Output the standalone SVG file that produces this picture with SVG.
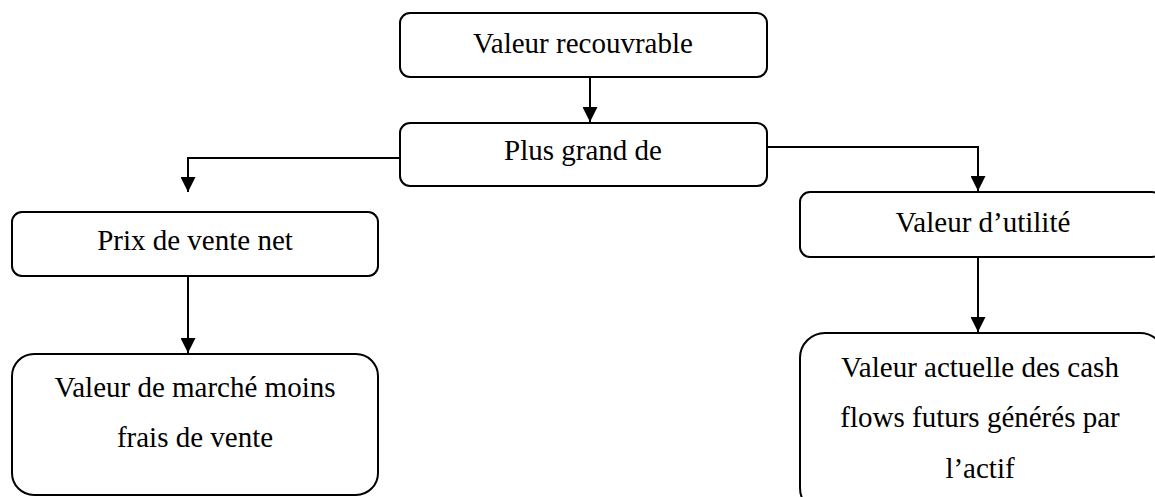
<svg xmlns="http://www.w3.org/2000/svg" width="1155" height="497" viewBox="0 0 1155 497">
<style>
.box{fill:#fff;stroke:#000;stroke-width:2}
.t{font-family:'Liberation Serif',serif;font-size:29px;fill:#000;text-anchor:middle}
.c{fill:none;stroke:#000;stroke-width:2}
</style>
<defs>
<marker id="ah" viewBox="0 0 10 10" refX="10" refY="5" markerWidth="7.5" markerHeight="7.5" markerUnits="strokeWidth" orient="auto">
<path d="M0,0 L10,5 L0,10 Z" fill="#000"/>
</marker>
</defs>
<rect width="1155" height="497" fill="#fff"/>
<g id="connectors">
<line class="c" x1="590" y1="77" x2="590" y2="122" marker-end="url(#ah)"/>
<polyline class="c" points="400,158 188,158 188,192" marker-end="url(#ah)"/>
<polyline class="c" points="767,147 978,147 978,191" marker-end="url(#ah)"/>
<line class="c" x1="188" y1="276" x2="188" y2="353" marker-end="url(#ah)"/>
<line class="c" x1="978" y1="257" x2="978" y2="332" marker-end="url(#ah)"/>
</g>
<g id="n-valeur-recouvrable">
<rect class="box" x="400" y="13" width="367" height="64" rx="10"/>
<text class="t" x="583" y="53" font-family="Liberation Serif">Valeur recouvrable</text>
</g>
<g id="n-plus-grand">
<rect class="box" x="400" y="123" width="367" height="63" rx="10"/>
<text class="t" x="583" y="160" font-family="Liberation Serif">Plus grand de</text>
</g>
<g id="n-prix">
<rect class="box" x="12" y="212" width="366" height="64" rx="10"/>
<text class="t" x="195" y="250" font-family="Liberation Serif">Prix de vente net</text>
</g>
<g id="n-utilite">
<rect class="box" x="800" y="192" width="362" height="65" rx="10"/>
<text class="t" x="983" y="232" font-family="Liberation Serif">Valeur d’utilité</text>
</g>
<g id="n-marche">
<rect class="box" x="12" y="354" width="366" height="141" rx="22"/>
<text class="t" x="195" y="397" font-family="Liberation Serif">Valeur de marché moins</text>
<text class="t" x="195" y="447" font-family="Liberation Serif">frais de vente</text>
</g>
<g id="n-actuelle">
<rect class="box" x="800" y="333" width="365" height="180" rx="25"/>
<text class="t" x="980" y="377" font-family="Liberation Serif">Valeur actuelle des cash</text>
<text class="t" x="980" y="427" font-family="Liberation Serif">flows futurs générés par</text>
<text class="t" x="980" y="478" font-family="Liberation Serif">l’actif</text>
</g>
</svg>
